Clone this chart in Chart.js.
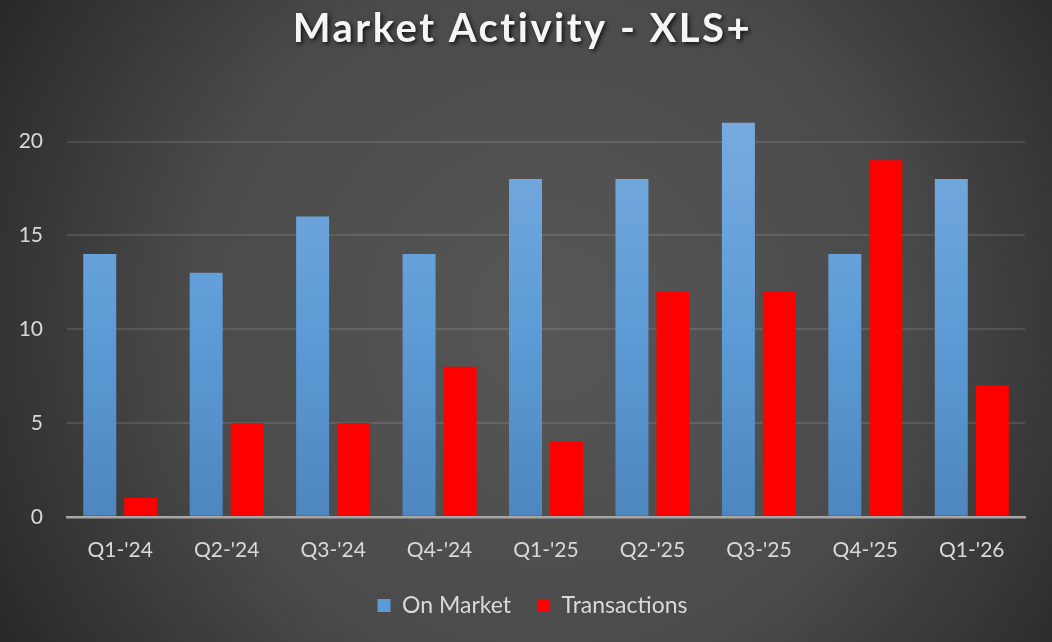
<!DOCTYPE html>
<html>
<head>
<meta charset="utf-8">
<script src="https://cdn.jsdelivr.net/npm/chart.js@4"></script>
<style>
  html, body { margin: 0; padding: 0; background: #333; }
  #wrap { width: 1052px; height: 642px; position: relative; }
</style>
</head>
<body>
<div id="wrap"><canvas id="chart"></canvas></div>
<script>
// 数据
const quarters = ["Q1-'24", "Q2-'24", "Q3-'24", "Q4-'24", "Q1-'25", "Q2-'25", "Q3-'25", "Q4-'25", "Q1-'26"];
const onMarket = [14, 13, 16, 14, 18, 18, 21, 14, 18];
const transactions = [1, 5, 5, 8, 4, 12, 12, 19, 7];
const yTicks = [0, 5, 10, 15, 20];

const textColor = '#d9d9d9';
const fontFamily = 'Lato, "Open Sans", sans-serif';

// 背景径向渐变
const bgPlugin = {
    id: 'bg',
    beforeDraw(chart) {
        const ctx = chart.ctx;
        const w = chart.width, h = chart.height;
        const g = ctx.createRadialGradient(w * 0.52, h * 0.5, 0, w * 0.52, h * 0.5, w * 0.62);
        g.addColorStop(0, '#575757');
        g.addColorStop(0.55, '#4a4a4a');
        g.addColorStop(1, '#262626');
        ctx.save();
        ctx.fillStyle = g;
        ctx.fillRect(0, 0, w, h);
        ctx.restore();
    }
};

// 标题阴影和字距, 图例位置微调
const tweaks = {
    id: 'tweaks',
    afterInit(chart) {
        const tb = chart.titleBlock;
        if (tb && !tb._wrapped) {
            const origDraw = tb.draw.bind(tb);
            tb.draw = function() {
                const ctx = chart.ctx;
                ctx.save();
                ctx.translate(10, 1);
                ctx.letterSpacing = '2.5px';
                ctx.shadowColor = 'rgba(0,0,0,0.75)';
                ctx.shadowBlur = 4;
                ctx.shadowOffsetX = 2;
                ctx.shadowOffsetY = 2;
                origDraw();
                ctx.restore();
            };
            tb._wrapped = true;
        }
        const lg = chart.legend;
        if (lg && !lg._wrapped) {
            const origFit = lg.fit.bind(lg);
            lg.fit = function() {
                origFit();
                this.height -= 28;
            };
            const origDraw = lg.draw.bind(lg);
            lg.draw = function() {
                const box = { top: this.top, bottom: this.bottom, left: this.left, right: this.right, height: this.height };
                this.top = box.top - 16;
                this.height = box.height + 28;
                this.bottom = this.top + this.height;
                this.left = box.left + 20;
                this.right = box.right + 20;
                origDraw();
                Object.assign(this, box);
            };
            lg._wrapped = true;
        }
    }
};

// 蓝色柱子渐变
function blueGradient(context) {
    const area = context.chart.chartArea;
    if (!area) return '#5b9bd5';
    const g = context.chart.ctx.createLinearGradient(0, area.top, 0, area.bottom);
    g.addColorStop(0, '#79acdf');
    g.addColorStop(0.55, '#5d9bd6');
    g.addColorStop(1, '#4e86bf');
    return g;
}

const ctx = document.getElementById('chart').getContext('2d');
const chart = new Chart(ctx, {
    type: 'bar',
    data: {
        labels: quarters,
        datasets: [
            {
                label: 'On Market',
                data: onMarket,
                backgroundColor: blueGradient,
                borderWidth: 0,
                categoryPercentage: 0.77,
                barPercentage: 0.805
            },
            {
                label: 'Transactions',
                data: transactions,
                backgroundColor: '#ff0000',
                borderWidth: 0,
                categoryPercentage: 0.77,
                barPercentage: 0.805
            }
        ]
    },
    options: {
        responsive: true,
        maintainAspectRatio: false,
        animation: false,
        layout: { padding: { left: 0, right: 27, top: 0, bottom: 27 } },
        scales: {
            x: {
                grid: { display: false, drawTicks: false },
                border: { display: true, color: '#a6a6a6', width: 2.5 },
                ticks: {
                    color: textColor,
                    font: { family: fontFamily, size: 21 },
                    padding: 21
                }
            },
            y: {
                min: 0,
                max: 22,
                afterBuildTicks(scale) {
                    scale.ticks = yTicks.map(v => ({ value: v }));
                },
                afterFit(scale) { scale.width = 67; },
                grid: {
                    color: ctx => ctx.tick && ctx.tick.value === 0 ? 'rgba(0,0,0,0)' : 'rgba(255,255,255,0.11)',
                    lineWidth: 2,
                    drawTicks: false
                },
                border: { display: false },
                ticks: {
                    color: textColor,
                    font: { family: fontFamily, size: 21 },
                    padding: 24
                }
            }
        },
        plugins: {
            title: {
                display: true,
                text: 'Market Activity - XLS+',
                color: '#f5f5f5',
                font: { family: fontFamily, size: 40, weight: 'bold' },
                padding: { top: 4, bottom: 52 }
            },
            legend: {
                position: 'bottom',
                labels: {
                    color: textColor,
                    font: { family: fontFamily, size: 23 },
                    boxWidth: 13,
                    boxHeight: 13,
                    padding: 26,
                    generateLabels() {
                        return [
                            { text: 'On Market', fillStyle: '#5b9bd5', strokeStyle: '#5b9bd5', lineWidth: 0, fontColor: textColor, datasetIndex: 0 },
                            { text: 'Transactions', fillStyle: '#ff0000', strokeStyle: '#ff0000', lineWidth: 0, fontColor: textColor, datasetIndex: 1 }
                        ];
                    }
                }
            },
            tooltip: { enabled: false }
        }
    },
    plugins: [bgPlugin, tweaks]
});
</script>
</body>
</html>
